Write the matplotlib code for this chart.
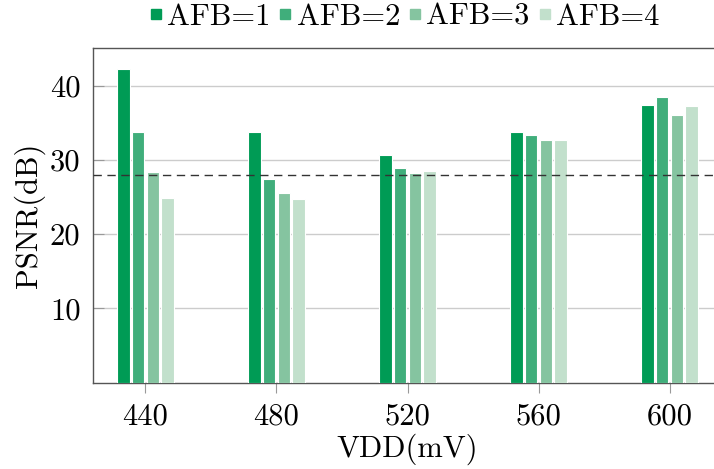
import numpy as np
from matplotlib import pyplot as plt
from matplotlib.lines import Line2D

vdd = [440, 480, 520, 560, 600]
afb_labels = ['AFB=1', 'AFB=2', 'AFB=3', 'AFB=4']
psnr = {
    'AFB=1': [42.3, 33.7, 30.6, 33.8, 37.4],
    'AFB=2': [33.8, 27.4, 28.9, 33.4, 38.5],
    'AFB=3': [28.4, 25.5, 28.2, 32.7, 36.1],
    'AFB=4': [24.9, 24.8, 28.5, 32.7, 37.2],
}
threshold = 28.0
colors = ['#009b55', '#40ae7b', '#85c4a0', '#c2e0cc']


def main():
    plt.rcParams['font.family'] = ['cmr10', 'DejaVu Serif']
    plt.rcParams['mathtext.fontset'] = 'cm'
    plt.rcParams['axes.unicode_minus'] = False
    plt.rcParams['font.size'] = 22

    fig = plt.figure(figsize=(7.14, 4.69), dpi=100)
    W, H = 714, 469
    left, right, top, bottom = 93, 722, 48.5, 382.7
    ax = fig.add_axes([left / W, (H - bottom) / H, (right - left) / W, (bottom - top) / H])

    x = np.array(vdd, dtype=float)
    pitch = 4.48
    width = 3.8
    for i, lab in enumerate(afb_labels):
        ax.bar(x + (i - 1.5) * pitch, psnr[lab], width=width, color=colors[i],
               edgecolor='white', linewidth=0.8, zorder=3)

    ax.axhline(threshold, color='#333333', linestyle=(0, (6, 4)), linewidth=1.0, zorder=4)

    ax.set_xlim(424, 616)
    ax.set_ylim(0, 45)
    ax.set_xticks(vdd)
    ax.set_yticks([10, 20, 30, 40])
    ax.yaxis.grid(True, color='#cccccc', linewidth=1.0, zorder=0)
    ax.set_axisbelow(True)

    ax.tick_params(axis='x', direction='out', length=7.5, width=0.8, color='#999999', pad=7)
    ax.tick_params(axis='y', direction='in', length=8, width=0.8, color='#999999', pad=9)

    for side in ['left', 'bottom', 'top']:
        ax.spines[side].set_color('#555555')
        ax.spines[side].set_linewidth(1.0)
    ax.spines['right'].set_visible(False)

    ax.set_xlabel('VDD(mV)')
    ax.set_ylabel('PSNR(dB)')
    ax.xaxis.set_label_coords(0.5, -0.153)
    ax.yaxis.set_label_coords(-0.076, 0.5)

    handles = [Line2D([], [], marker='s', linestyle='none', markersize=7.2,
                      color=c) for c in colors]
    fig.legend(handles, afb_labels, loc='center', bbox_to_anchor=(405 / W, 1 - 17 / H),
               ncol=4, frameon=False, handlelength=0.33, handletextpad=0.2,
               columnspacing=0.33, borderpad=0, fontsize=22)

    fig.savefig('out.png', dpi=100)


if __name__ == "__main__":
    main()
